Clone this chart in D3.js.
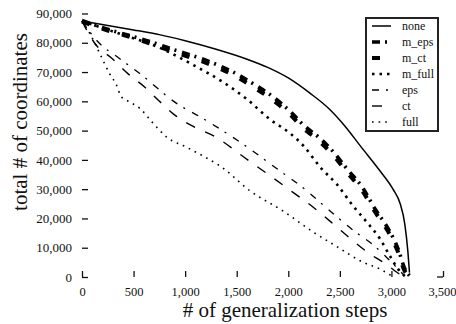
<!DOCTYPE html>
<html>
<head>
<meta charset="utf-8">
<script src="https://cdn.jsdelivr.net/npm/d3@7"></script>
<style>
  body { margin: 0; background: #fff; }
  text { font-family: "Liberation Serif", "DejaVu Serif", serif; fill: #111; }
</style>
</head>
<body>
<div id="chart"></div>
<script>
// series names (legend order)
const seriesNames = ["none", "m_eps", "m_ct", "m_full", "eps", "ct", "full"];

// [steps, total # of coordinates]
const none = [[0, 87400], [250, 85900], [500, 84400], [760, 82700], [1000, 80700], [1300, 77800], [1600, 74400], [1800, 71600], [2000, 68000], [2210, 62800], [2400, 57300], [2550, 51500], [2700, 44700], [2890, 36200], [3015, 30000], [3085, 25000], [3130, 18000], [3160, 8500], [3175, 1500]];
const mEps = [[0, 87600], [250, 84600], [480, 82300], [670, 80300], [870, 77900], [1240, 73500], [1460, 70100], [1660, 66000], [1850, 61600], [2020, 56500], [2150, 51800], [2300, 47600], [2430, 43000], [2570, 36900], [2720, 30500], [2840, 23300], [2970, 16400], [3065, 9600], [3130, 2800], [3175, 500]];
const mCt = [[0, 87200], [250, 84200], [480, 81800], [670, 79600], [870, 77100], [1240, 72600], [1460, 69100], [1660, 64900], [1850, 60400], [2020, 55400], [2150, 50700], [2300, 46400], [2430, 41800], [2570, 35700], [2720, 29300], [2840, 22300], [2970, 15400], [3060, 8900], [3125, 2300], [3170, 300]];
const mFull = [[0, 87400], [380, 82900], [740, 78500], [1100, 72000], [1370, 66500], [1600, 60700], [1820, 53900], [2020, 49000], [2150, 44700], [2310, 37500], [2470, 31700], [2630, 24200], [2760, 18800], [2890, 13000], [2985, 7200], [3065, 2700], [3130, 300]];
const eps = [[0, 87400], [150, 80500], [360, 74700], [560, 69500], [930, 59000], [1150, 54600], [1560, 45400], [1870, 37500], [2180, 29400], [2360, 23900], [2650, 15400], [2810, 11300], [2940, 7200], [3035, 3800], [3130, 300]];
const ct = [[0, 87400], [120, 80000], [300, 74400], [450, 69300], [610, 64800], [740, 60400], [900, 55300], [1090, 51200], [1280, 48100], [1610, 39900], [1960, 31100], [2300, 22200], [2460, 17400], [2630, 12300], [2790, 7900], [2950, 4400], [3080, 1000], [3130, 300]];
const full = [[0, 87400], [80, 82900], [175, 76100], [270, 69300], [330, 65900], [380, 61600], [440, 60200], [560, 57600], [680, 52900], [820, 47800], [1010, 44400], [1190, 41000], [1340, 37900], [1630, 29400], [1950, 22500], [2240, 15400], [2480, 10200], [2720, 5100], [2890, 2700], [3005, 300]];

const seriesData = [none, mEps, mCt, mFull, eps, ct, full];

const xTicks = [0, 500, 1000, 1500, 2000, 2500, 3000, 3500];
const yTicks = [0, 10000, 20000, 30000, 40000, 50000, 60000, 70000, 80000, 90000];

// line styles per series
const styles = [
    {w: 1.5, dash: null},
    {w: 3.6, dash: "8,5,2,6"},
    {w: 4, dash: "8,13"},
    {w: 2.6, dash: "2.5,5"},
    {w: 1.3, dash: "7,7,2,8"},
    {w: 1.4, dash: "10,11"},
    {w: 1.6, dash: "1.6,5"}
];

const W = 456, H = 324;
const svg = d3.select("#chart").append("svg")
    .attr("width", W).attr("height", H);

const x = d3.scaleLinear().domain([0, 3500]).range([82, 443]);
const y = d3.scaleLinear().domain([0, 90000]).range([277, 13.5]);

const fmt = d3.format(",");

// y axis: ticks only, pointing into the plot
const yAxis = svg.append("g")
    .attr("transform", "translate(82,0)")
    .call(d3.axisLeft(y).tickValues(yTicks).tickSize(-6).tickPadding(10).tickFormat(fmt));
yAxis.select(".domain").remove();
yAxis.selectAll(".tick line").attr("stroke", "#111").attr("stroke-width", 1.3);
yAxis.selectAll(".tick text").attr("font-size", 13).style("font-family", "Liberation Serif");

// x axis: ticks only, pointing up
const xAxis = svg.append("g")
    .attr("transform", "translate(0,277)")
    .call(d3.axisBottom(x).tickValues(xTicks).tickSize(-6).tickPadding(10).tickFormat(fmt));
xAxis.select(".domain").remove();
xAxis.selectAll(".tick line").attr("stroke", "#111").attr("stroke-width", 1.3);
xAxis.selectAll(".tick text").attr("font-size", 12.5).style("font-family", "Liberation Serif");
xAxis.selectAll(".tick text").filter(d => d === 3500).attr("dx", -1);

// bottom-right corner mark
svg.append("line")
    .attr("x1", x(3500) - 6).attr("x2", x(3500))
    .attr("y1", y(0)).attr("y2", y(0))
    .attr("stroke", "#111").attr("stroke-width", 1.3);

// axis titles
svg.append("text")
    .attr("x", 285).attr("y", 317)
    .attr("text-anchor", "middle")
    .attr("font-size", 21)
    .text("# of generalization steps");

svg.append("text")
    .attr("transform", "rotate(-90)")
    .attr("x", -122).attr("y", 27)
    .attr("text-anchor", "middle")
    .attr("font-size", 21)
    .text("total # of coordinates");

// curves
const line = d3.line()
    .x(d => x(d[0]))
    .y(d => y(d[1]))
    .curve(d3.curveMonotoneX);

seriesData.forEach((data, i) => {
    svg.append("path")
        .datum(data)
        .attr("fill", "none")
        .attr("stroke", "#000")
        .attr("stroke-width", styles[i].w)
        .attr("stroke-dasharray", styles[i].dash)
        .attr("d", line);
});

// legend
const legend = svg.append("g").attr("transform", "translate(366,18)");
legend.append("rect")
    .attr("x", 0).attr("y", 0)
    .attr("width", 72).attr("height", 113)
    .attr("fill", "#fff")
    .attr("stroke", "#222").attr("stroke-width", 2);

seriesNames.forEach((name, i) => {
    const ly = 8 + i * 16;
    legend.append("line")
        .attr("x1", 6).attr("x2", 25)
        .attr("y1", ly).attr("y2", ly)
        .attr("stroke", "#000")
        .attr("stroke-width", styles[i].w)
        .attr("stroke-dasharray", styles[i].dash);
    legend.append("text")
        .attr("x", 36).attr("y", ly + 4)
        .attr("font-size", 12)
        .text(name);
});
</script>
</body>
</html>
